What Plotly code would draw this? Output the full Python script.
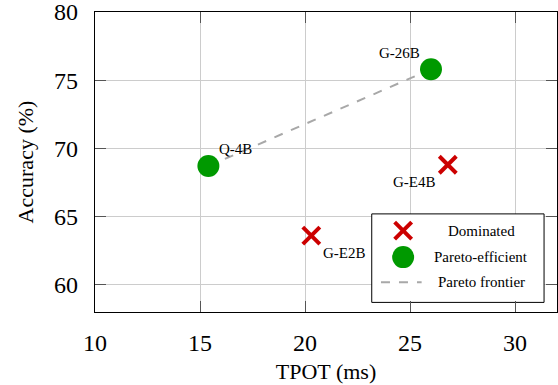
import plotly.graph_objects as go

# Data
dom_names = ["G-E2B", "G-E4B"]
dom_tpot = [20.3, 26.8]
dom_acc = [63.6, 68.8]

par_names = ["Q-4B", "G-26B"]
par_tpot = [15.4, 26.0]
par_acc = [68.7, 75.8]

x_ticks = [10, 15, 20, 25, 30]
y_ticks = [60, 65, 70, 75, 80]

RED = "#CC0000"
GREEN = "#009900"
GRAY = "#A8A8A8"
FONT = "Liberation Serif"

fig = go.Figure()

# Pareto frontier
fig.add_trace(go.Scatter(x=par_tpot, y=par_acc, mode="lines",
                         line=dict(color=GRAY, width=2, dash="dash"),
                         showlegend=False, hoverinfo="skip"))
# Dominated
fig.add_trace(go.Scatter(x=dom_tpot, y=dom_acc, mode="markers",
                         marker=dict(symbol="x-thin", size=17, color=RED,
                                     line=dict(color=RED, width=4)),
                         showlegend=False))
# Pareto-efficient
fig.add_trace(go.Scatter(x=par_tpot, y=par_acc, mode="markers",
                         marker=dict(symbol="circle", size=22, color=GREEN),
                         showlegend=False))

# Point labels
label_offsets = {"Q-4B": (27, 17), "G-26B": (-32, 16), "G-E4B": (-33, -17), "G-E2B": (33, -17)}
for name, xv, yv in zip(dom_names + par_names, dom_tpot + par_tpot, dom_acc + par_acc):
    dx, dy = label_offsets[name]
    fig.add_annotation(x=xv, y=yv, text=name, showarrow=False, xshift=dx, yshift=dy,
                       font=dict(family=FONT, size=15, color="black"))

# Manual legend on an overlay axis (box drawn as a filled trace so it hides gridlines)
bx0, bx1, by0, by1 = 0.599, 0.972, 0.032, 0.327
fig.add_trace(go.Scatter(x=[bx0, bx1, bx1, bx0, bx0], y=[by0, by0, by1, by1, by0],
                         xaxis="x2", yaxis="y2", mode="lines", fill="toself",
                         fillcolor="white", line=dict(color="black", width=1),
                         showlegend=False, hoverinfo="skip"))
fig.add_trace(go.Scatter(x=[0.667], y=[0.271], xaxis="x2", yaxis="y2", mode="markers",
                         marker=dict(symbol="x-thin", size=17, color=RED, line=dict(color=RED, width=4)),
                         showlegend=False, hoverinfo="skip"))
fig.add_trace(go.Scatter(x=[0.667], y=[0.183], xaxis="x2", yaxis="y2", mode="markers",
                         marker=dict(symbol="circle", size=22, color=GREEN),
                         showlegend=False, hoverinfo="skip"))
fig.add_trace(go.Scatter(x=[0.619, 0.707], y=[0.099, 0.099], xaxis="x2", yaxis="y2", mode="lines",
                         line=dict(color=GRAY, width=2, dash="dash"),
                         showlegend=False, hoverinfo="skip"))
for txt, yy in [("Dominated", 0.271), ("Pareto-efficient", 0.183), ("Pareto frontier", 0.099)]:
    fig.add_annotation(xref="paper", yref="paper", x=0.8355, y=yy, text=txt, showarrow=False,
                       xanchor="center", yanchor="middle",
                       font=dict(family=FONT, size=15, color="black"))

axis_common = dict(showline=True, linecolor="black", linewidth=1.3, mirror="allticks",
                   ticks="inside", ticklen=11, tickcolor="#555555", tickwidth=1,
                   showgrid=True, gridcolor="#CCCCCC", gridwidth=1, zeroline=False,
                   ticklabeloverflow="allow",
                   tickfont=dict(family=FONT, size=24, color="black"))

fig.update_layout(
    width=558, height=385,
    margin=dict(l=95, r=1, t=12, b=73),
    plot_bgcolor="white", paper_bgcolor="white",
    showlegend=False,
    xaxis=dict(range=[10, 32], tickvals=x_ticks, ticklabelstandoff=9, automargin="bottom+height",
               title=dict(text="TPOT (ms)", font=dict(family=FONT, size=22, color="black"), standoff=8),
               **axis_common),
    yaxis=dict(range=[58, 80], tickvals=y_ticks, ticklabelstandoff=11, automargin="left+width",
               title=dict(text="Accuracy (%)", font=dict(family=FONT, size=22, color="black"), standoff=14),
               **axis_common),
    xaxis2=dict(range=[0, 1], overlaying="x", visible=False, fixedrange=True),
    yaxis2=dict(range=[0, 1], overlaying="y", visible=False, fixedrange=True),
)

fig.write_html("out.html")
